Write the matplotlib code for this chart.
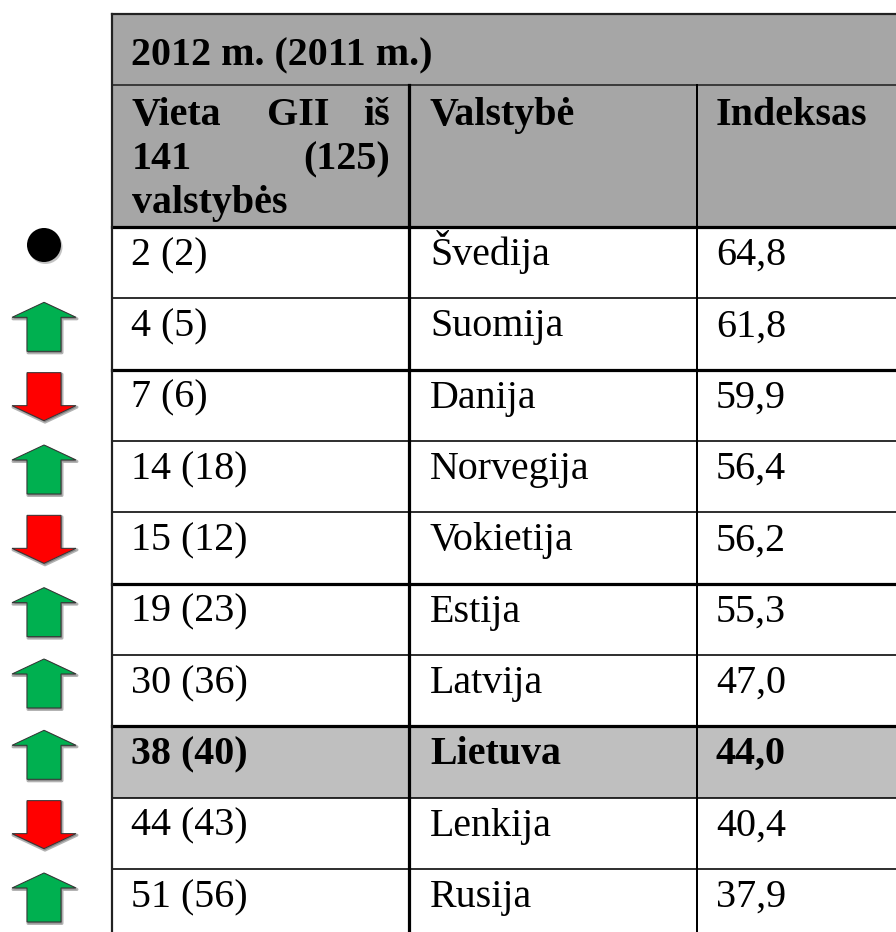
"""
GII 2012 (2011) ranking table with up/down trend markers.
"""
import matplotlib
matplotlib.use("Agg")
import matplotlib.pyplot as plt
from matplotlib.patches import Polygon, Circle, Rectangle

# data
places_2012 = [2, 4, 7, 14, 15, 19, 30, 38, 44, 51]
places_2011 = [2, 5, 6, 18, 12, 23, 36, 40, 43, 56]
countries = ["Švedija", "Suomija", "Danija", "Norvegija", "Vokietija",
             "Estija", "Latvija", "Lietuva", "Lenkija", "Rusija"]
index_values = [64.8, 61.8, 59.9, 56.4, 56.2, 55.3, 47.0, 44.0, 40.4, 37.9]
highlight = "Lietuva"

title = "2012 m. (2011 m.)"
col_headers = ["Valstybė", "Indeksas"]

# layout (pixels, y goes down)
W, H = 896, 932
left, top = 112, 14
hdr1_bottom, hdr2_bottom = 85, 227
row_h = 71.33
col_x = [409, 697]
text_x = [131, 430, 716]
thick_rows = [0, 2, 5, 7]
fs = 28.8
font = "Liberation Serif"
hdr_gray = "#a6a6a6"
hl_gray = "#bfbfbf"


def px(n):
    return n * 0.72


def up_arrow(cx, t):
    return [(cx, t), (cx + 32, t + 15), (cx + 17, t + 15), (cx + 17, t + 49),
            (cx - 17, t + 49), (cx - 17, t + 15), (cx - 32, t + 15)]


def down_arrow(cx, t):
    return [(cx - 17, t), (cx + 17, t), (cx + 17, t + 33), (cx + 32, t + 33),
            (cx, t + 48), (cx - 32, t + 33), (cx - 17, t + 33)]


def main():
    fig = plt.figure(figsize=(W / 100, H / 100), dpi=100)
    ax = fig.add_axes([0, 0, 1, 1])
    ax.set_xlim(0, W)
    ax.set_ylim(H, 0)
    ax.axis("off")

    nrows = len(countries)
    bottom = hdr2_bottom + row_h * nrows

    # backgrounds
    ax.add_patch(Rectangle((left, top), W - left + 10, hdr2_bottom - top,
                           facecolor=hdr_gray, edgecolor="none"))
    for i, c in enumerate(countries):
        if c == highlight:
            y0 = hdr2_bottom + row_h * i
            ax.add_patch(Rectangle((left, y0), W - left + 10, row_h,
                                   facecolor=hl_gray, edgecolor="none"))

    # rules
    ax.plot([left, W + 10], [top, top], color="#222222", lw=px(2.2))
    ax.plot([left, W + 10], [hdr1_bottom, hdr1_bottom], color="#222222", lw=px(1.6))
    for i in range(nrows):
        y = hdr2_bottom + row_h * i
        lw = px(3.2) if i in thick_rows else px(1.6)
        ax.plot([left, W + 10], [y, y], color="black", lw=lw)
    ax.plot([left, left], [top, bottom + 10], color="#222222", lw=px(2.2))
    ax.plot([col_x[0], col_x[0]], [hdr1_bottom, bottom + 10], color="black", lw=px(3.2))
    ax.plot([col_x[1], col_x[1]], [hdr1_bottom, bottom + 10], color="black", lw=px(2.0))

    # header text
    kw = dict(family=font, fontsize=fs, fontweight="bold", va="baseline", color="black")
    ax.text(131, 65, title, ha="left", **kw)
    ax.text(132, 125, "Vieta", ha="left", **kw)
    ax.text(267, 125, "GII", ha="left", **kw)
    ax.text(390, 125, "iš", ha="right", **kw)
    ax.text(132, 169, "141", ha="left", **kw)
    ax.text(390, 169, "(125)", ha="right", **kw)
    ax.text(132, 213, "valstybės", ha="left", **kw)
    ax.text(text_x[1], 125, col_headers[0], ha="left", **kw)
    ax.text(text_x[2], 125, col_headers[1], ha="left", **kw)

    # rows
    for i in range(nrows):
        y0 = hdr2_bottom + row_h * i
        weight = "bold" if countries[i] == highlight else "normal"
        cells = [f"{places_2012[i]} ({places_2011[i]})", countries[i],
                 f"{index_values[i]:.1f}".replace(".", ",")]
        for x, s in zip(text_x, cells):
            ax.text(x, y0 + 38, s, family=font, fontsize=fs, fontweight=weight,
                    va="baseline", ha="left", color="black")

        # trend marker
        cx = 44
        if places_2012[i] == places_2011[i]:
            ax.add_patch(Circle((cx + 1.5, y0 + 20), 17, facecolor="#888888",
                                edgecolor="none", alpha=0.5))
            ax.add_patch(Circle((cx, y0 + 18), 17, facecolor="black", edgecolor="none"))
        else:
            if places_2012[i] < places_2011[i]:
                pts, color = up_arrow(cx, y0 + 4), "#00b050"
            else:
                pts, color = down_arrow(cx, y0 + 3), "#ff0000"
            shadow = [(x + 1, y + 1.5) for x, y in pts]
            ax.add_patch(Polygon(shadow, closed=True, facecolor="#555555",
                                 edgecolor="#555555", lw=px(3), alpha=0.45,
                                 joinstyle="round"))
            ax.add_patch(Polygon(pts, closed=True, facecolor=color,
                                 edgecolor="#333333", lw=px(1.0)))

    fig.savefig("out.png", dpi=100)


if __name__ == "__main__":
    main()
